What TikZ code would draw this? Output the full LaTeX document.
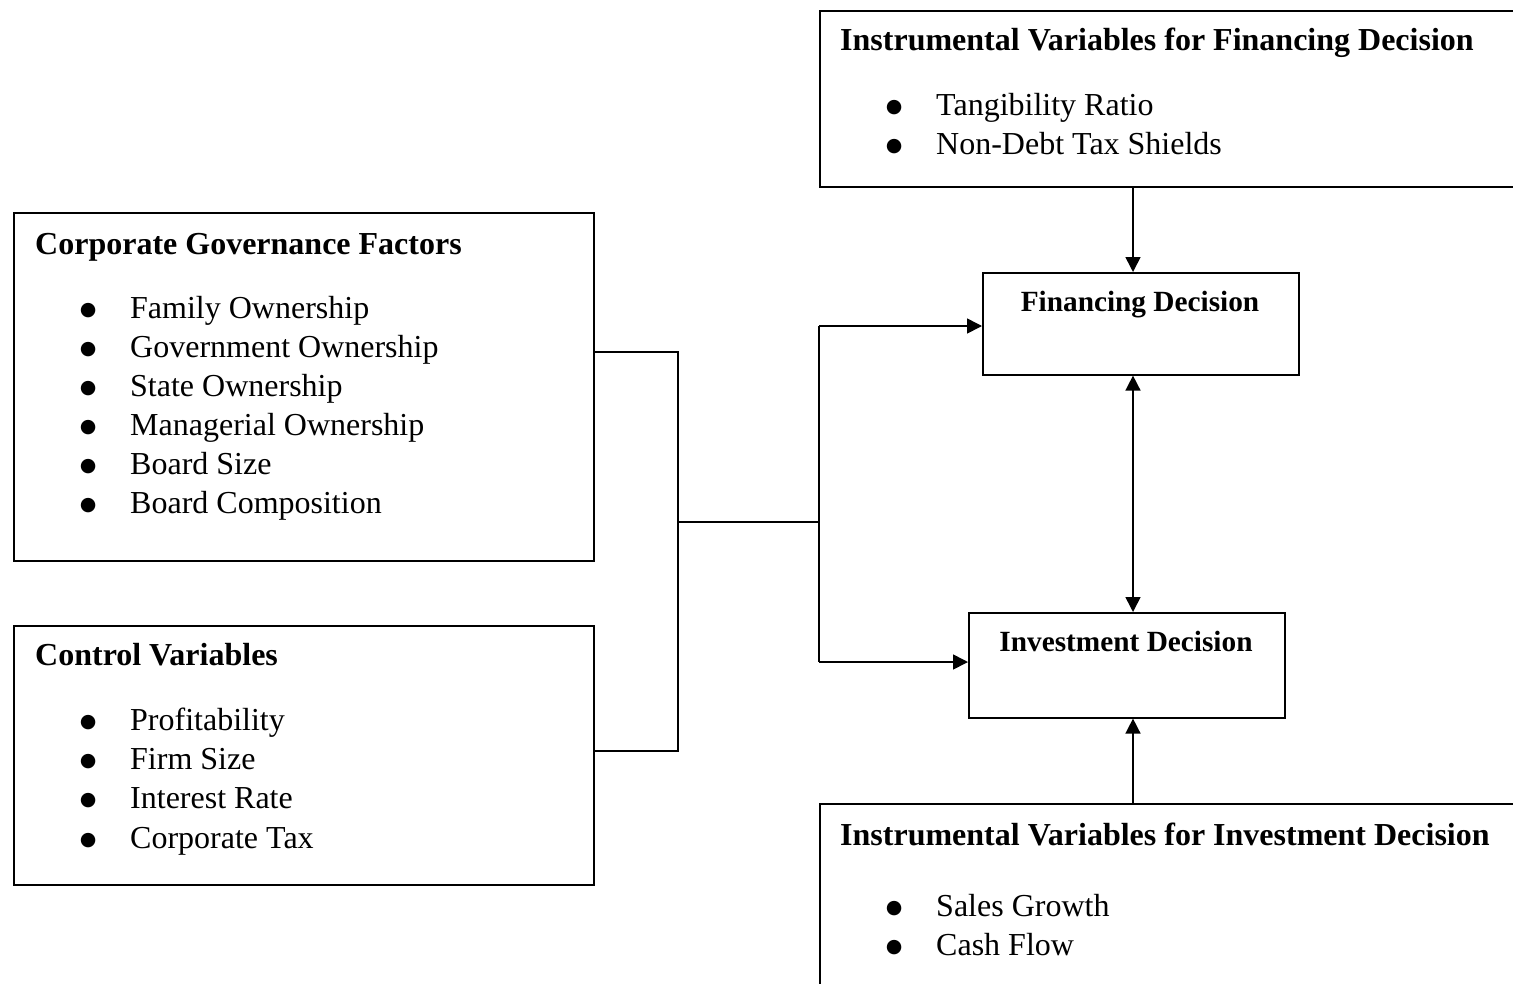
\documentclass[tikz,border=0pt]{standalone}
\usepackage{fontspec}
\setmainfont{Liberation Serif}
\newfontfamily\dejavu{DejaVu Sans}
\usetikzlibrary{arrows.meta}
\tikzset{
  box/.style={draw=black, line width=1.6pt, inner sep=0pt, anchor=north west},
  txt/.style={inner sep=0pt, anchor=base west, font=\fontsize{32}{39}\selectfont},
  ttl/.style={inner sep=0pt, anchor=base west, font=\fontsize{32}{39}\selectfont\bfseries},
  dtl/.style={inner sep=0pt, anchor=base, font=\fontsize{29.3}{35}\selectfont\bfseries},
  conn/.style={line width=1.6pt},
  arr/.style={line width=1.6pt, -{Triangle[length=15pt,width=15pt]}},
  darr/.style={line width=1.6pt, {Triangle[length=15pt,width=15pt]}-{Triangle[length=15pt,width=15pt]}},
}
\newcommand\bulmark{\llap{\makebox[0pt]{\raisebox{3pt}{\dejavu\fontsize{19}{19}\selectfont ●}}\hspace{42pt}}}
\newcommand\bitem[4]{\node[txt] (#1) at (#2+42,#3) {\bulmark #4};}
\begin{document}
\begin{tikzpicture}[x=1pt,y=-1pt]
\useasboundingbox (0,0) rectangle (1513,983);
\clip (0,0) rectangle (1513,983);
\fill[white] (0,0) rectangle (1513,983);
% boxes
\node[box, minimum width=580pt, minimum height=348pt] (cg) at (13,212) {};
\node[box, minimum width=580pt, minimum height=259pt] (cv) at (13,625) {};
\node[box, minimum width=720pt, minimum height=176pt] (ifin) at (819,10) {};
\node[box, minimum width=720pt, minimum height=220pt] (iinv) at (819,803) {};
\node[box, minimum width=316pt, minimum height=102pt] (fin) at (982,272) {};
\node[box, minimum width=316pt, minimum height=105pt] (inv) at (968,612) {};
% texts: corporate governance
\node[ttl] (cgt) at (35,254) {Corporate Governance Factors};
\bitem{cg1}{88}{318}{Family Ownership}
\bitem{cg2}{88}{357}{Government Ownership}
\bitem{cg3}{88}{396}{State Ownership}
\bitem{cg4}{88}{435}{Managerial Ownership}
\bitem{cg5}{88}{474}{Board Size}
\bitem{cg6}{88}{513}{Board Composition}
% control variables
\node[ttl] (cvt) at (35,665) {Control Variables};
\bitem{cv1}{88}{730}{Profitability}
\bitem{cv2}{88}{769}{Firm Size}
\bitem{cv3}{88}{808}{Interest Rate}
\bitem{cv4}{88}{848}{Corporate Tax}
% instrumental financing
\node[ttl] (ifint) at (840,50) {Instrumental Variables for Financing Decision};
\bitem{if1}{894}{115}{Tangibility Ratio}
\bitem{if2}{894}{154}{Non-Debt Tax Shields}
% instrumental investment
\node[ttl] (iinvt) at (840,845) {Instrumental Variables for Investment Decision};
\bitem{ii1}{894}{916}{Sales Growth}
\bitem{ii2}{894}{955}{Cash Flow}
% decision titles
\node[dtl] (fint) at (1140,311) {Financing Decision};
\node[dtl] (invt) at (1126,651) {Investment Decision};
% connector coordinates
\coordinate (ja) at (678,352);
\coordinate (jb) at (678,751);
\coordinate (jm) at (678,522);
\coordinate (jr) at (819,522);
\coordinate (jt) at (819,326);
\coordinate (jl) at (819,662);
\coordinate (vx) at (1133,0);
% connectors
\draw[conn] (cg.east |- ja) -- (ja) -- (jb) -- (cv.east |- jb);
\draw[conn] (jm) -- (jr);
\draw[conn] (jt) -- (jl);
\draw[arr] (jt) -- (fin.west |- jt);
\draw[arr] (jl) -- (inv.west |- jl);
\draw[arr] (ifin.south -| vx) -- (fin.north -| vx);
\draw[darr] (fin.south -| vx) -- (inv.north -| vx);
\draw[arr] (iinv.north -| vx) -- (inv.south -| vx);
\end{tikzpicture}
\end{document}
